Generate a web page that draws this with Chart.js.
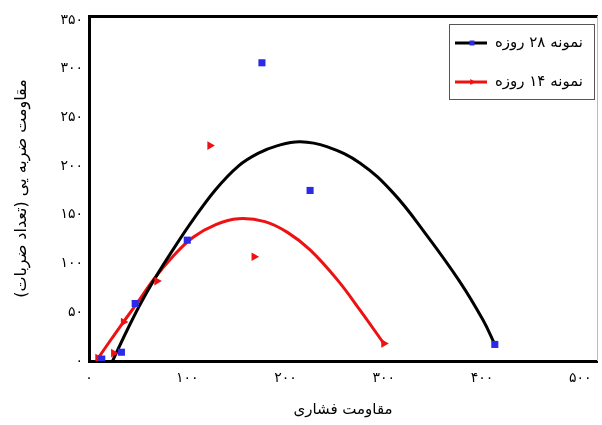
<!DOCTYPE html>
<html>
<head>
<meta charset="utf-8">
<script src="https://cdn.jsdelivr.net/npm/chart.js@4.4.1/dist/chart.umd.min.js"></script>
<style>
  html, body { margin: 0; padding: 0; background: #fff; }
</style>
</head>
<body>
<canvas id="chart" width="602" height="425"></canvas>
<script>
// نقاط آزمایش - نمونه ۲۸ روزه
const days28X = [13, 33, 47, 100, 176, 225, 413];
const days28Y = [2, 9, 59, 124, 306, 175, 17];
// نقاط آزمایش - نمونه ۱۴ روزه
const days14X = [9, 25, 35, 69, 123, 168, 300];
const days14Y = [3, 8, 40, 82, 221, 107, 18];

// trend curves
const fit28X = [24, 38, 52, 66, 86, 106, 129, 152, 172, 192, 215, 242, 276, 310, 343, 377, 401, 413];
const fit28Y = [0, 30, 58, 83, 115, 145, 176, 200, 213, 221, 225, 220, 203, 172, 130, 82, 42, 17];
const fit14X = [8, 21, 35, 48, 66, 86, 106, 129, 152, 179, 202, 225, 253, 276, 300];
const fit14Y = [1, 20, 40, 58, 84, 108, 127, 140, 146, 143, 132, 114, 83, 52, 18];

const xTicks = [0, 100, 200, 300, 400, 500];
const xTickLabels = ['۰', '۱۰۰', '۲۰۰', '۳۰۰', '۴۰۰', '۵۰۰'];
const yTicks = [0, 50, 100, 150, 200, 250, 300, 350];
const yTickLabels = ['۰', '۵۰', '۱۰۰', '۱۵۰', '۲۰۰', '۲۵۰', '۳۰۰', '۳۵۰'];

const seriesLabels = ['نمونه ۲۸ روزه', 'نمونه ۱۴ روزه'];
const xTitle = 'مقاومت فشاری';
const yTitle = '\u200Fمقاومت ضربه یی (تعداد ضربات)\u200F';

const FONT = "'DejaVu Sans', sans-serif";
const BLUE = '#2a2ae8';
const RED = '#ee1111';

function toPoints(xs, ys) {
    return xs.map((x, i) => ({ x: x, y: ys[i] }));
}

// 上・右の枠線
const frame = {
    id: 'frame',
    afterDraw(chart) {
        const { ctx, chartArea } = chart;
        ctx.save();
        ctx.strokeStyle = '#000';
        ctx.lineWidth = 3;
        ctx.beginPath();
        ctx.moveTo(chartArea.left - 1, chartArea.top + 0.5);
        ctx.lineTo(chartArea.right + 1, chartArea.top + 0.5);
        ctx.stroke();
        ctx.strokeStyle = '#bbb';
        ctx.lineWidth = 1;
        ctx.beginPath();
        ctx.moveTo(chartArea.right + 0.5, chartArea.top);
        ctx.lineTo(chartArea.right + 0.5, chartArea.bottom);
        ctx.stroke();
        ctx.restore();
    }
};

// 凡例 (線 + マーカー) をプロット内に描く
const boxLegend = {
    id: 'boxLegend',
    afterDraw(chart) {
        const ctx = chart.ctx;
        const ds = chart.data.datasets;
        ctx.save();
        ctx.strokeStyle = '#555';
        ctx.lineWidth = 1;
        ctx.strokeRect(449.5, 24.5, 145, 75);
        const rows = [
            { line: ds[0], mark: ds[2], y: 43, label: seriesLabels[0] },
            { line: ds[1], mark: ds[3], y: 82, label: seriesLabels[1] }
        ];
        rows.forEach(r => {
            ctx.strokeStyle = r.line.borderColor;
            ctx.lineWidth = 3;
            ctx.beginPath();
            ctx.moveTo(455, r.y);
            ctx.lineTo(487, r.y);
            ctx.stroke();
            ctx.fillStyle = r.mark.pointBackgroundColor;
            Chart.helpers.drawPoint(ctx, {
                pointStyle: r.mark.pointStyle,
                rotation: r.mark.pointRotation || 0,
                radius: 3.5,
                borderWidth: 0
            }, 472, r.y);
            ctx.fillStyle = '#000';
            ctx.font = '15px ' + FONT;
            ctx.textAlign = 'right';
            ctx.textBaseline = 'middle';
            ctx.fillText(r.label, 583, r.y);
        });
        ctx.restore();
    }
};

new Chart(document.getElementById('chart').getContext('2d'), {
    type: 'scatter',
    data: {
        datasets: [{
            type: 'line',
            label: seriesLabels[0],
            data: toPoints(fit28X, fit28Y),
            borderColor: '#000',
            borderWidth: 3,
            pointRadius: 0,
            tension: 0.4,
            fill: false,
            order: 2
        }, {
            type: 'line',
            label: seriesLabels[1],
            data: toPoints(fit14X, fit14Y),
            borderColor: RED,
            borderWidth: 3,
            pointRadius: 0,
            tension: 0.4,
            fill: false,
            order: 2
        }, {
            label: seriesLabels[0],
            data: toPoints(days28X, days28Y),
            pointStyle: 'rect',
            pointRadius: 5,
            pointBorderWidth: 0,
            pointBackgroundColor: BLUE,
            order: 1
        }, {
            label: seriesLabels[1],
            data: toPoints(days14X, days14Y),
            pointStyle: 'triangle',
            pointRotation: 90,
            pointRadius: 5,
            pointBorderWidth: 0,
            pointBackgroundColor: RED,
            order: 1
        }]
    },
    options: {
        responsive: false,
        animation: false,
        devicePixelRatio: 1,
        layout: { padding: { top: 16, right: 1, left: 0, bottom: 0 } },
        plugins: {
            legend: { display: false },
            tooltip: { enabled: false }
        },
        scales: {
            x: {
                type: 'linear',
                min: 0,
                max: 517,
                afterBuildTicks: s => { s.ticks = xTicks.map(v => ({ value: v })); },
                afterFit: s => { s.height = 64; },
                grid: { display: false, drawTicks: false },
                border: { display: true, color: '#000', width: 3 },
                ticks: {
                    padding: 9,
                    color: '#000',
                    font: { family: FONT, size: 14 },
                    maxRotation: 0,
                    callback: v => xTickLabels[xTicks.indexOf(v)]
                },
                title: {
                    display: true,
                    text: xTitle,
                    color: '#000',
                    font: { family: FONT, size: 15 },
                    padding: { top: 0, bottom: 6 }
                }
            },
            y: {
                type: 'linear',
                min: 0,
                max: 354,
                afterBuildTicks: s => { s.ticks = yTicks.map(v => ({ value: v })); },
                afterFit: s => { s.width = 89; },
                grid: { display: false, drawTicks: false },
                border: { display: true, color: '#000', width: 3 },
                ticks: {
                    padding: 6,
                    color: '#000',
                    font: { family: FONT, size: 14 },
                    callback: v => yTickLabels[yTicks.indexOf(v)]
                },
                title: {
                    display: true,
                    text: yTitle,
                    color: '#000',
                    font: { family: FONT, size: 16 },
                    padding: { top: 12, bottom: 0 }
                }
            }
        }
    },
    plugins: [frame, boxLegend]
});
</script>
</body>
</html>
